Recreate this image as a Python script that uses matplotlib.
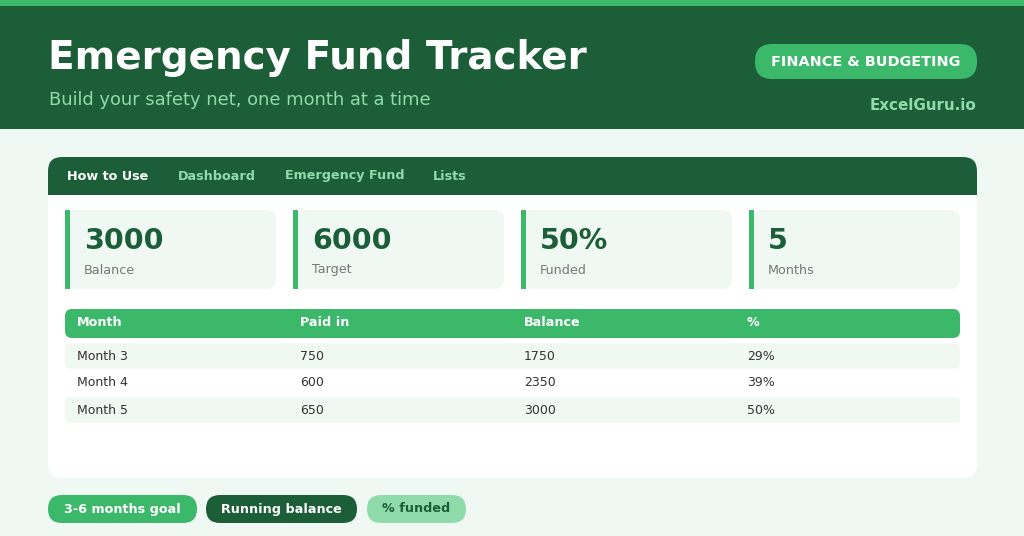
import matplotlib
matplotlib.use("Agg")
import matplotlib.pyplot as plt
from matplotlib.patches import FancyBboxPatch, Rectangle
plt.rcParams['font.family'] = ['DejaVu Sans']

title = "Emergency Fund Tracker"
subtitle = "Build your safety net, one month at a time"
badge = "FINANCE & BUDGETING"
brand = "ExcelGuru.io"
tabs = ["How to Use", "Dashboard", "Emergency Fund", "Lists"]
kpi_values = ["3000", "6000", "50%", "5"]
kpi_labels = ["Balance", "Target", "Funded", "Months"]
columns = ["Month", "Paid in", "Balance", "%"]
months = ["Month 3", "Month 4", "Month 5"]
paid_in = [750, 600, 650]
balance = [1750, 2350, 3000]
pct = ["29%", "39%", "50%"]
pills = ["3-6 months goal", "Running balance", "% funded"]

DARK = "#1b5e38"; GREEN = "#3bb86a"; LIGHT = "#eff8f2"; PALE = "#8fdcaa"

fig = plt.figure(figsize=(10.24, 5.36), dpi=100)
ax = fig.add_axes([0, 0, 1, 1])
ax.set_xlim(0, 1024); ax.set_ylim(536, 0); ax.axis("off")
fig.patch.set_facecolor(LIGHT)

def rbox(x0, y0, x1, y1, r, fc, z=1):
    ax.add_patch(FancyBboxPatch((x0 + r, y0 + r), x1 - x0 - 2 * r, y1 - y0 - 2 * r,
                                boxstyle=f"round,pad={r}", fc=fc, ec="none", zorder=z))

ax.add_patch(Rectangle((0, 0), 1024, 129, fc=DARK, ec="none"))
ax.add_patch(Rectangle((0, 0), 1024, 6, fc=GREEN, ec="none"))
ax.text(48, 58, title, fontsize=28, weight="bold", color="white", va="center")
ax.text(49, 100, subtitle, fontsize=12.9, color=PALE, va="center")
rbox(755, 44, 977, 79, 17, GREEN, 2)
ax.text(866, 62, badge, fontsize=10.4, weight="bold", color="white", ha="center", va="center", zorder=3)
ax.text(976, 105, brand, fontsize=10.9, weight="bold", color=PALE, ha="right", va="center")

# card
rbox(48, 157, 977, 478, 14, "white", 1)
rbox(48, 157, 977, 210, 14, DARK, 2)
ax.add_patch(Rectangle((48, 195), 929, 20, fc="white", ec="none", zorder=2))
for t, x in zip(tabs, [67, 178, 285, 433]):
    ax.text(x, 176, t, fontsize=9.2, weight="bold", color="white" if t == tabs[0] else PALE,
            va="center", zorder=3)

for i, (v, l) in enumerate(zip(kpi_values, kpi_labels)):
    x0 = 65 + i * 228
    rbox(x0, 210, x0 + 211, 289, 10, LIGHT, 3)
    ax.add_patch(Rectangle((x0, 210), 5, 79, fc=GREEN, ec="none", zorder=4))
    ax.text(x0 + 19, 241, v, fontsize=20.5, weight="bold", color=DARK, va="center", zorder=5)
    ax.text(x0 + 19, 270, l, fontsize=9.2, color="#777777", va="center", zorder=5)

colx = [77, 300, 524, 747]
rbox(65, 309, 960, 338, 7, GREEN, 3)
for c, x in zip(columns, colx):
    ax.text(x, 323, c, fontsize=9.2, weight="bold", color="white", va="center", zorder=4)
for r in range(len(months)):
    y = 356 + r * 27
    if r % 2 == 0:
        rbox(65, y - 12.5, 960, y + 12.5, 4, LIGHT, 3)
    for val, x in zip([months[r], paid_in[r], balance[r], pct[r]], colx):
        ax.text(x, y, str(val), fontsize=9, color="#333333", va="center", zorder=4)

for t, (x0, x1), fc, tc in zip(pills, [(48, 197), (206, 357), (367, 466)],
                               [GREEN, DARK, PALE], ["white", "white", DARK]):
    rbox(x0, 495, x1, 523, 14, fc, 2)
    ax.text((x0 + x1) / 2, 509, t, fontsize=9.2, weight="bold", color=tc, ha="center", va="center", zorder=3)

fig.savefig("out.png", dpi=100, facecolor=LIGHT)
